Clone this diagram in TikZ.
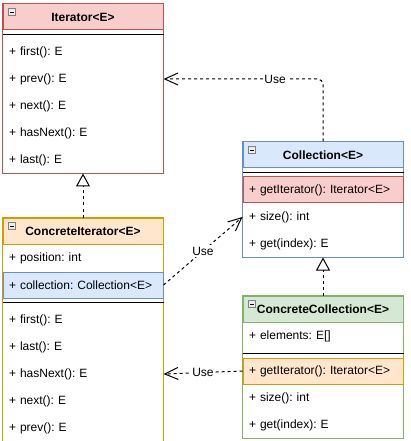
\documentclass[tikz,border=0pt]{standalone}
\usepackage{fontspec}
\setmainfont{Liberation Sans}
\usepackage{tikz}
\usetikzlibrary{arrows.meta,backgrounds,calc,positioning}
\definecolor{redfill}{HTML}{F8CECC}
\definecolor{redline}{HTML}{B85450}
\definecolor{bluefill}{HTML}{DAE8FC}
\definecolor{blueline}{HTML}{6C8EBF}
\definecolor{orangefill}{HTML}{FFE6CC}
\definecolor{orangeline}{HTML}{D79B00}
\definecolor{greenfill}{HTML}{D5E8D4}
\definecolor{greenline}{HTML}{82B366}
\newcommand{\umlfont}{\fontsize{9}{11}\selectfont\frenchspacing}
\tikzset{
  classhead/.style={minimum width=120pt,minimum height=19.5pt,inner sep=0pt,font=\umlfont\bfseries},
  member/.style={minimum width=120pt,minimum height=19.5pt,text width=111pt,inner sep=0pt,align=left},
  divider/.style={draw=black},
  collapse/.style={draw=gray,fill=gray!15,line width=0.5pt},
  use/.style={dash pattern=on 2.25pt off 2.25pt,-{Straight Barb[length=10pt,width=9pt]}},
  realize/.style={dash pattern=on 2.25pt off 2.25pt,-{Triangle[open,length=9.75pt,width=10.5pt]}},
  uselabel/.style={fill=white,inner sep=1pt}
}

\begin{document}
\frenchspacing
\begin{tikzpicture}[x=0.75pt,y=-0.75pt,line width=0.75pt,font=\umlfont]
\useasboundingbox (0,0) rectangle (410,441);

\node[classhead,fill=redfill,draw=redline] (ith) at (83,17) {Iterator<E>};
\node[member,below=6pt of ith] (itf) {+ first(): E};
\node[member,below=0pt of itf] (itp) {+ prev(): E};
\node[member,below=0pt of itp] (itn) {+ next(): E};
\node[member,below=0pt of itn] (ithn) {+ hasNext(): E};
\node[member,below=0pt of ithn] (itl) {+ last(): E};

\node[classhead,fill=orangefill,draw=orangeline] (cih) at (83,231) {ConcreteIterator<E>};
\node[member,below=0pt of cih] (cipos) {+ position: int};
\node[member,below=0pt of cipos,fill=bluefill,draw=blueline] (cicol) {+ collection: Collection<E>};
\node[member,below=6pt of cicol] (cif) {+ first(): E};
\node[member,below=0pt of cif] (cil) {+ last(): E};
\node[member,below=0pt of cil] (cihn) {+ hasNext(): E};
\node[member,below=0pt of cihn] (cin) {+ next(): E};
\node[member,below=0pt of cin] (cip) {+ prev(): E};

\node[classhead,fill=bluefill,draw=blueline] (colh) at (323,155) {Collection<E>};
\node[member,below=6pt of colh,fill=redfill,draw=redline] (colit) {+ getIterator(): Iterator<E>};
\node[member,below=0pt of colit] (colsz) {+ size(): int};
\node[member,below=0pt of colsz] (colget) {+ get(index): E};

\node[classhead,fill=greenfill,draw=greenline] (cch) at (323,309) {ConcreteCollection<E>};
\node[member,below=0pt of cch] (ccel) {+ elements: E[]};
\node[member,below=6pt of ccel,fill=orangefill,draw=orangeline] (ccit) {+ getIterator(): Iterator<E>};
\node[member,below=0pt of ccit] (ccsz) {+ size(): int};
\node[member,below=0pt of ccsz] (ccget) {+ get(index): E};

\begin{scope}[on background layer]
\draw[redline] (ith.north west) rectangle (itl.south east);
\draw[orangeline] (cih.north west) rectangle (cip.south east);
\draw[blueline] (colh.north west) rectangle (colget.south east);
\draw[greenline] (cch.north west) rectangle (ccget.south east);
\end{scope}

\draw[divider] ($(ith.south west)+(0,4)$) -- ($(ith.south east)+(0,4)$);
\draw[divider] ($(cicol.south west)+(0,4)$) -- ($(cicol.south east)+(0,4)$);
\draw[divider] ($(colh.south west)+(0,4)$) -- ($(colh.south east)+(0,4)$);
\draw[divider] ($(ccel.south west)+(0,4)$) -- ($(ccel.south east)+(0,4)$);

\foreach \h in {ith,cih,colh,cch} {
  \draw[collapse] ($(\h.north west)+(6,5)$) rectangle +(7,7);
  \draw[line width=0.6pt] ($(\h.north west)+(7.5,8.5)$) -- +(4,0);
}

\draw[use,rounded corners=4pt] (colh.north) |- node[uselabel,pos=0.65] (use1) {Use} (itp.east);
\draw[use] (cicol.east) -- node[uselabel] (use2) {Use} (colsz.west);
\draw[use] (ccit.west) -- node[uselabel] (use3) {Use} (cihn.east);
\draw[realize] (cih.north) -- (itl.south);
\draw[realize] (cch.north) -- (colget.south);
\end{tikzpicture}
\end{document}
